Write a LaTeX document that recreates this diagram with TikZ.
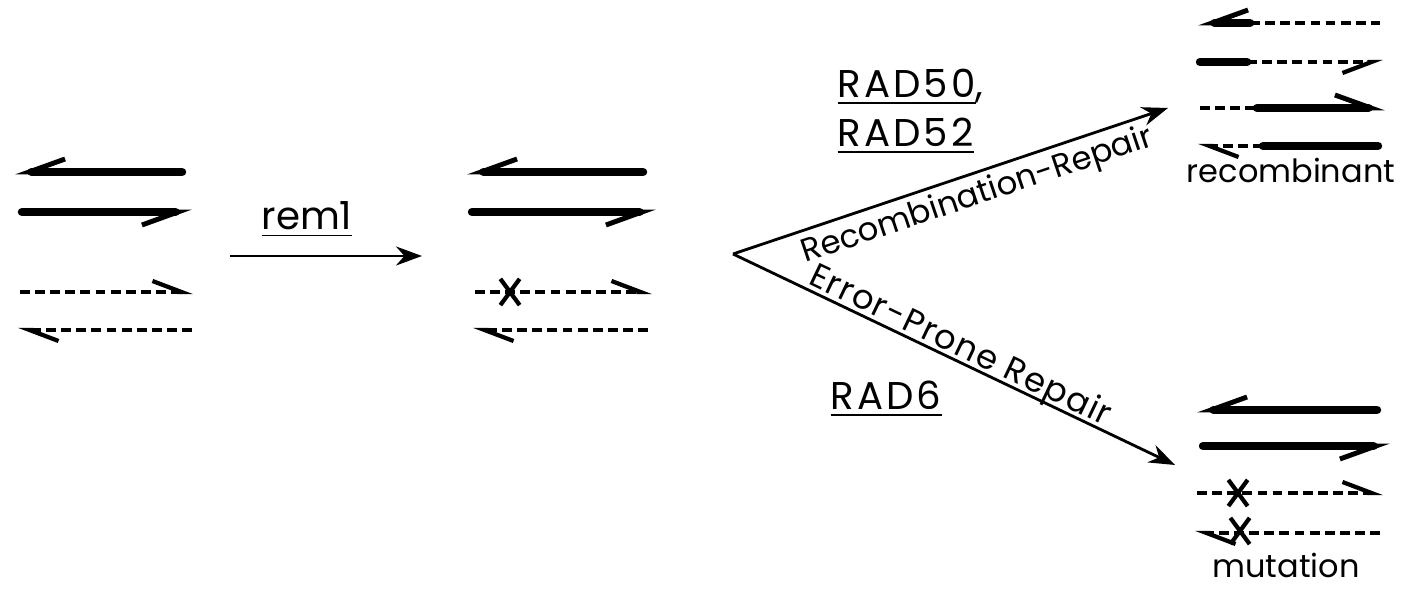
\documentclass[tikz,border=0pt]{standalone}
\usepackage{fontspec}
\setmainfont{Poppins}
\usetikzlibrary{arrows.meta,shapes.misc}

\tikzset{
  old/.style={line width=2.4pt, line cap=round},
  new/.style={line width=1.1pt, dash pattern=on 2.8pt off 1.5pt},
  oldR/.style={-{Straight Barb[right,length=3.6mm,width=2.6mm,line width=1.4pt]}},
  oldL/.style={-{Straight Barb[left,length=3.6mm,width=2.6mm,line width=1.4pt]}},
  newR/.style={-{Straight Barb[right,length=2.9mm,width=2.2mm,line width=1.2pt]}},
  newL/.style={-{Straight Barb[left,length=2.9mm,width=2.2mm,line width=1.2pt]}},
  lesion/.style={cross out, draw, line width=1.2pt, minimum width=1.5mm, minimum height=2.2mm, inner sep=0pt},
  pathway/.style={line width=0.8pt, -{Stealth[length=2.6mm,width=1.9mm]}},
  gene/.style={anchor=base west, inner sep=0pt, font=\fontsize{11}{13}\selectfont\addfontfeature{LetterSpace=8}},
  route/.style={sloped, inner sep=1.5pt, font=\fontsize{9.2}{11}\selectfont},
  result/.style={anchor=base, inner sep=0pt, font=\fontsize{9.1}{11}\selectfont}
}

\begin{document}
\begin{tikzpicture}[x=0.01cm, y=-0.01cm]
  \useasboundingbox (0,0) rectangle (1403,589);

  % damaged duplex
  \draw[old,oldR] (182,172) -- (15,172);
  \draw[old,oldR] (22,212) -- (192,212);
  \draw[new,newL] (20,292) -- (193,292);
  \draw[new,newL] (192,330) -- (18,330);

  % rem1 step
  \coordinate (remA) at (230,256);
  \coordinate (remB) at (422,256);
  \draw[pathway] (remA) -- (remB);
  \node[anchor=base, inner sep=0pt, font=\fontsize{11}{13}\selectfont] (rem) at (307,230) {\underline{rem1}};

  % duplex after rem1, one lesion
  \draw[old,oldR] (643,172) -- (467,172);
  \draw[old,oldR] (472,212) -- (656,212);
  \draw[new,newL] (475,292) -- (652,292);
  \draw[new,newL] (648,330) -- (473,330);
  \node[lesion] (x1) at (510,292) {};

  % the two repair pathways
  \coordinate (fork) at (733,254);
  \coordinate (rec) at (1168,108);
  \coordinate (mut) at (1175,465);
  \draw[pathway] (fork) -- node[route, below, pos=0.545] {Recombination-Repair} (rec);
  \draw[pathway] (fork) -- node[route, above, pos=0.5, text depth=0pt, inner sep=1pt,
    font=\fontsize{9.6}{11}\selectfont\addfontfeature{LetterSpace=4}] {Error-Prone Repair} (mut);
  \node[gene] (rad50) at (837,98) {\underline{RAD50},};
  \node[gene] (rad52) at (837,147) {\underline{RAD52}};
  \node[gene] (rad6) at (830,410) {\underline{RAD6}};

  % recombinant
  \draw[old,oldR] (1250,23) -- (1198,23);
  \draw[new] (1250,23) -- (1380,23);
  \draw[old] (1200,62) -- (1247,62);
  \draw[new,newR] (1247,62) -- (1383,62);
  \draw[new] (1200,108) -- (1257,108);
  \draw[old,oldL] (1257,108) -- (1385,108);
  \draw[old] (1378,146) -- (1263,146);
  \draw[new,newL] (1263,146) -- (1198,146);
  \node[result] (recText) at (1291,183) {recombinant};

  % mutation
  \draw[old,oldR] (1377,410) -- (1197,410);
  \draw[old,oldR] (1203,446) -- (1390,446);
  \draw[new,newL] (1197,493) -- (1383,493);
  \draw[new,newL] (1380,533) -- (1195,533);
  \node[lesion] (x2) at (1238,493) {};
  \node[lesion] (x3) at (1240,531) {};
  \node[result] (mutText) at (1286,578) {mutation};
\end{tikzpicture}
\end{document}
